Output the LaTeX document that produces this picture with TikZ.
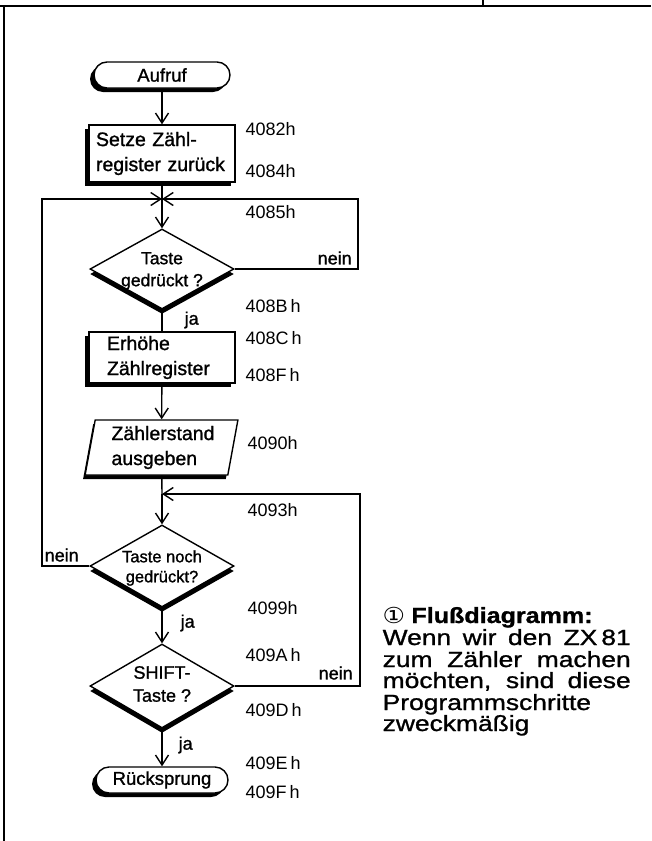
\documentclass[tikz,border=0pt]{standalone}
\usepackage{fontspec}
\usepackage{graphicx}
\setmainfont{Liberation Sans}
\newfontfamily\flowfont[FakeBold=1.2]{Liberation Sans}
\newfontfamily\capfont[FakeBold=1]{Liberation Sans}
\newfontfamily\symfont{DejaVu Sans}
\usetikzlibrary{shapes.geometric,shadows,arrows.meta}
\begin{document}
\begin{tikzpicture}[x=1pt,y=-1pt,
  line width=1.4pt,
  every node/.style={inner sep=0pt},
  arr/.style={-{Straight Barb[length=10pt,width=13pt]}},
  shbox/.style={drop shadow={shadow xshift=-4pt,shadow yshift=-4pt,opacity=1,fill=black}},
  shdia/.style={drop shadow={shadow xshift=0pt,shadow yshift=-5pt,opacity=1,fill=black}},
  shpar/.style={drop shadow={shadow xshift=-2pt,shadow yshift=-4pt,opacity=1,fill=black}},
  term/.style={draw,fill=white,rounded corners=13pt,minimum height=26pt,font=\flowfont\fontsize{18.5}{22}\selectfont,shbox},
  proc/.style={draw,fill=white,align=left,font=\flowfont\fontsize{19.5}{25}\selectfont,shbox},
  dia/.style={draw,fill=white,diamond,minimum width=144pt,shdia},
  dtxt/.style={align=center,font=\flowfont\fontsize{17.5}{22}\selectfont},
  lab/.style={anchor=west,font=\fontsize{18}{20}\selectfont},
  brl/.style={anchor=west,font=\flowfont\fontsize{18}{20}\selectfont},
  capf/.style={anchor=base west,font=\capfont\fontsize{22}{22}\selectfont}
]
\useasboundingbox (0,0) rectangle (651,841);
% frame
\draw[line width=1.8pt] (0,6) -- (651,6);
\draw[line width=1.8pt] (4,6) -- (4,841);
\draw[line width=1.2pt] (483,0) -- (483,6);

% nodes
\node[term,minimum width=136pt] (aufruf) at (162,75) {Aufruf};
\node[proc,text width=132pt,inner xsep=7pt,minimum height=57pt] (box1) at (162,153.5) {Setze Zähl-\\register zurück};
\node[dia,minimum height=80pt] (d1) at (162,269) {};
\node[dtxt] (d1t) at (162,271) {Taste\\gedrückt ?};
\node[proc,text width=110pt,inner xsep=18pt,minimum height=51pt] (box2) at (162,357.5) {Erhöhe\\Zählregister};
\node[draw,fill=white,trapezium,trapezium left angle=80,trapezium right angle=100,trapezium stretches=true,
      minimum width=153pt,minimum height=55pt,shpar,align=left,text width=100pt,
      font=\flowfont\fontsize{19.5}{25}\selectfont] (par) at (161.5,447.5) {Zählerstand\\ausgeben};
\node[dia,minimum height=82pt] (d2) at (162,566) {};
\node[dtxt,font=\flowfont\fontsize{16.5}{20}\selectfont] (d2t) at (162,568) {Taste noch\\gedrückt?};
\node[dia,minimum height=84pt] (d3) at (162,686) {};
\node[dtxt,font=\flowfont\fontsize{18}{23}\selectfont] (d3t) at (162,684) {SHIFT-\\Taste ?};
\node[term,minimum width=132pt] (rueck) at (162,780) {Rücksprung};

% junctions
\coordinate (j1) at (162,199);
\coordinate (j2) at (162,494);
\coordinate (r1) at (358,199);
\coordinate (l1) at (42,199);
\coordinate (r2) at (360,494);

% connectors
\draw[arr] (aufruf) -- (box1);
\draw (box1) -- (j1);
\draw[arr] (j1) -- (d1);
\draw[arr] (d1.east) -| (r1) -- (j1);
\draw[arr] (d2.west) -| (l1) -- (j1);
\draw (d1) -- (box2);
\draw[arr] (box2) -- (par);
\draw (par) -- (j2);
\draw[arr] (j2) -- (d2);
\draw[arr] (d3.east) -| (r2) -- (j2);
\draw[arr] (d2) -- (d3);
\draw[arr] (d3) -- (rueck);

% branch labels
\node[brl] (n1) at (317,258) {nein};
\node[brl] (n2) at (44,555) {nein};
\node[brl] (n3) at (318,673) {nein};
\node[brl] (ja1) at (184,320) {ja};
\node[brl] (ja2) at (180,623) {ja};
\node[brl] (ja3) at (178,745) {ja};

% address labels
\node[lab] (a1) at (245,129) {4082h};
\node[lab] (a2) at (245,171) {4084h};
\node[lab] (a3) at (245,212) {4085h};
\node[lab] (a4) at (245,306) {408B\,h};
\node[lab] (a5) at (245,338) {408C\,h};
\node[lab] (a6) at (245,375) {408F\,h};
\node[lab] (a7) at (247,443) {4090h};
\node[lab] (a8) at (247,510) {4093h};
\node[lab] (a9) at (247,608) {4099h};
\node[lab] (a10) at (245,655) {409A\,h};
\node[lab] (a11) at (245,710) {409D\,h};
\node[lab] (a12) at (245,763) {409E\,h};
\node[lab] (a13) at (245,792) {409F\,h};

% caption
\node[capf] (c1) at (382,623) {\scalebox{1.14}[1]{{\symfont ①}\hspace{0.25em}\textbf{Flußdiagramm:}}};
\node[capf] (c2) at (382,645) {\scalebox{1.2}[1]{\makebox[206.7pt][s]{Wenn wir den ZX\hspace{0.15em}81}}};
\node[capf] (c3) at (382,667) {\scalebox{1.2}[1]{\makebox[206.7pt][s]{zum Zähler machen}}};
\node[capf] (c4) at (382,688) {\scalebox{1.2}[1]{\makebox[206.7pt][s]{möchten, sind diese}}};
\node[capf] (c5) at (382,710) {\scalebox{1.2}[1]{Programmschritte}};
\node[capf] (c6) at (382,731) {\scalebox{1.2}[1]{zweckmäßig}};
\end{tikzpicture}
\end{document}
